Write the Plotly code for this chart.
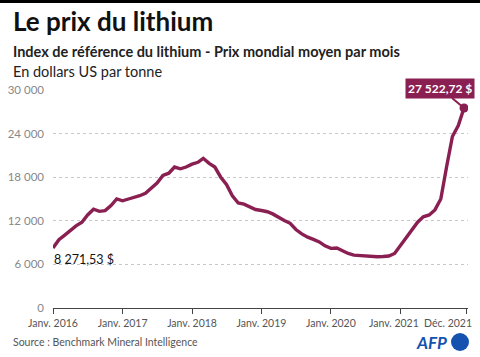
import plotly.graph_objects as go
import pandas as pd

# ---- data ----
dates = pd.date_range("2016-01-01", "2021-12-01", freq="MS")
prices = [
    8271.53, 9400, 10000, 10700, 11300, 11800, 12800, 13600, 13300, 13400, 14100, 15000,
    14750, 15000, 15200, 15450, 15800, 16500, 17200, 18250, 18550, 19400, 19150, 19400,
    19800, 20050, 20600, 19900, 19400, 18000, 17000, 15450, 14450, 14300, 13900, 13550,
    13420, 13250, 12950, 12450, 12050, 11650, 10800, 10200, 9750, 9450, 9100, 8550,
    8210, 8250, 7830, 7500, 7280, 7200, 7120, 7080, 7060, 7080, 7150, 7500,
    8600, 9700, 10700, 11800, 12550, 12800, 13500, 15000, 19500, 23600, 25100, 27522.72,
]
x_tick_vals = ["2016-01-01", "2017-01-01", "2018-01-01", "2019-01-01",
               "2020-01-01", "2021-01-01", "2021-12-15"]
x_tick_text = ["Janv. 2016", "Janv. 2017", "Janv. 2018", "Janv. 2019",
               "Janv. 2020", "Janv. 2021", "Déc. 2021"]
y_tick_vals = [0, 6000, 12000, 18000, 24000, 30000]
y_tick_text = ["0", "6 000", "12 000", "18 000", "24 000", "30 000"]
first_label = "8 271,53 $"
last_label = "27 522,72 $"

LINE = "#8a1f52"
FONT = "Lato"

W, H = 480, 357
ML, MR, MT, MB = 53, 12, 90, 49

fig = go.Figure()
fig.add_trace(go.Scatter(
    x=dates, y=prices, mode="lines",
    line=dict(color=LINE, width=3.4, shape="linear"),
    hoverinfo="skip", showlegend=False,
))
fig.add_trace(go.Scatter(
    x=[dates[-1]], y=[prices[-1]], mode="markers",
    marker=dict(color=LINE, size=9), hoverinfo="skip", showlegend=False,
))

# the last two tick labels are drawn as annotations, nudged left as in the reference
shown_tick_text = x_tick_text[:-2] + ["", ""]

fig.update_layout(
    width=W, height=H,
    margin=dict(l=ML, r=MR, t=MT, b=MB, autoexpand=False),
    paper_bgcolor="white", plot_bgcolor="white",
    font=dict(family=FONT, color="#333"),
    xaxis=dict(
        type="date", range=["2016-01-01", "2021-12-22"],
        tickvals=x_tick_vals, ticktext=shown_tick_text,
        showgrid=False, zeroline=False, automargin=False,
        showline=True, linecolor="#444", linewidth=1,
        ticks="outside", ticklen=5, tickcolor="#444",
        tickfont=dict(size=10.5, color="#555", family=FONT),
        ticklabeloverflow="allow",
    ),
    yaxis=dict(
        range=[0, 30000], tickvals=y_tick_vals, ticktext=y_tick_text,
        showgrid=True, gridcolor="#c8c8c8", griddash="dot", gridwidth=1,
        zeroline=False, showline=False, ticks="", automargin=False,
        tickfont=dict(size=11.5, color="#888", family=FONT),
        ticklabelstandoff=8,
    ),
)

plot_h = H - MT - MB
plot_w = W - ML - MR
def py(y_px):
    return (H - MB - y_px) / plot_h
def px(x_px):
    return (x_px - ML) / plot_w

# top black bar
fig.add_shape(type="rect", xref="paper", yref="paper", x0=px(0), x1=px(480),
              y0=py(3), y1=py(-1), fillcolor="black", line_width=0)
# AFP logo circle
fig.add_shape(type="circle", xref="paper", yref="paper",
              x0=px(451), x1=px(469), y0=py(351), y1=py(333),
              fillcolor="#1552b0", line_width=0)

anns = [
    dict(text="<b>Le prix du lithium</b>", x=px(11), y=py(21), xanchor="left", yanchor="middle",
         font=dict(size=26, color="#111", family=FONT)),
    dict(text="<b>Index de référence du lithium - Prix mondial moyen par mois</b>", x=px(11), y=py(51),
         xanchor="left", yanchor="middle", font=dict(size=14.5, color="#222", family=FONT)),
    dict(text="En dollars US par tonne", x=px(11), y=py(71), xanchor="left", yanchor="middle",
         font=dict(size=14.5, color="#222", family=FONT)),
    dict(text="Source : Benchmark Mineral Intelligence", x=px(11), y=py(342), xanchor="left",
         yanchor="middle", font=dict(size=10.5, color="#555", family=FONT)),
    dict(text="<b><i>AFP</i></b>", x=px(449), y=py(342), xanchor="right", yanchor="middle",
         font=dict(size=17, color="#1552b0", family=FONT)),
    dict(text=x_tick_text[-2], x=px(394), y=py(323), xanchor="center", yanchor="middle",
         font=dict(size=10.5, color="#555", family=FONT)),
    dict(text=x_tick_text[-1], x=px(474), y=py(323), xanchor="right", yanchor="middle",
         font=dict(size=10.5, color="#555", family=FONT)),
]
for a in anns:
    a.update(xref="paper", yref="paper", showarrow=False)
    fig.add_annotation(**a)

fig.add_annotation(x=dates[0], y=prices[0], xref="x", yref="y", text=first_label,
                   showarrow=False, xanchor="left", yanchor="top", yshift=-2, xshift=-1,
                   font=dict(size=12.5, color="#111", family=FONT))
fig.add_annotation(x=dates[-1], y=prices[-1], xref="x", yref="y", text="<b>" + last_label + "</b>",
                   showarrow=True, arrowhead=0, arrowwidth=2, arrowcolor=LINE,
                   ax=-24, ay=-20, bgcolor=LINE, borderpad=2,
                   font=dict(size=12, color="white", family=FONT))

fig.write_html("out.html", config={"displayModeBar": False},
               post_script="document.body.style.margin='0';document.body.style.overflow='hidden';")
